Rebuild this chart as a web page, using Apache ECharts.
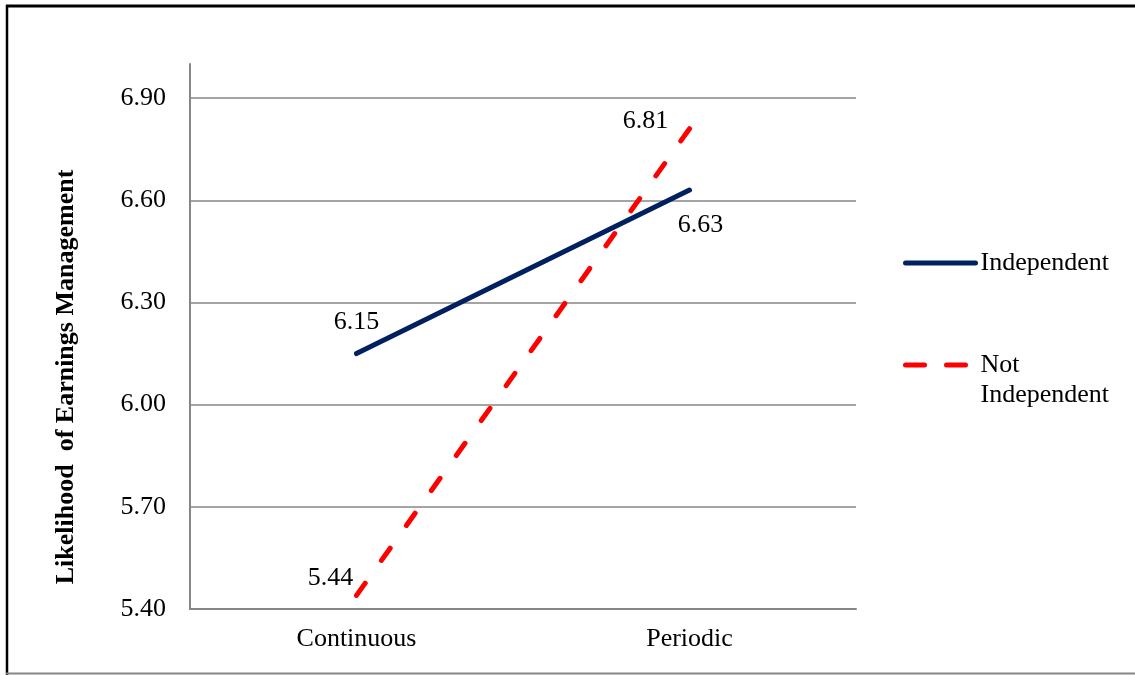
<!DOCTYPE html>
<html>
<head>
<meta charset="utf-8">
<script src="https://cdn.jsdelivr.net/npm/echarts@6/dist/echarts.min.js"></script>
<style>
  html, body { margin: 0; padding: 0; background: #fff; }
  #chart { width: 1135px; height: 675px; }
</style>
</head>
<body>
<div id="chart"></div>
<script>
// Values
const categories = ['Continuous', 'Periodic'];
const independent = [6.15, 6.63];
const notIndependent = [5.44, 6.81];
const seriesNames = ['Independent', 'Not Independent'];
const yTicks = { min: 5.4, max: 7.0, step: 0.3 };

// Label placement around each point (pixels, relative to the point)
const labelOffsets = {
  'Independent': [[0, -31], [11, 35]],
  'Not Independent': [[-26, -17], [-44, -8]]
};

const FONT = '"Liberation Serif", "Times New Roman", serif';
const GRAY = '#868686';
const NAVY = '#002060';
const RED = '#ff0000';

function buildData(name, values) {
  return values.map((v, i) => ({
    value: v,
    label: { offset: labelOffsets[name][i] }
  }));
}

const chart = echarts.init(document.getElementById('chart'), null, { renderer: 'canvas' });

const option = {
  backgroundColor: '#ffffff',
  animation: false,
  grid: { left: 190, right: 279, top: 64, bottom: 66, containLabel: false },
  xAxis: {
    type: 'category',
    data: categories,
    boundaryGap: true,
    axisLine: { lineStyle: { color: GRAY, width: 2 } },
    axisTick: { show: false },
    axisLabel: { color: '#000', fontFamily: FONT, fontSize: 26, margin: 17 }
  },
  yAxis: {
    type: 'value',
    min: yTicks.min,
    max: yTicks.max,
    interval: yTicks.step,
    axisLine: { show: true, lineStyle: { color: GRAY, width: 2 } },
    axisTick: { show: false },
    axisLabel: {
      color: '#000', fontFamily: FONT, fontSize: 26, margin: 24,
      showMaxLabel: false,
      formatter: v => (Math.abs(v - yTicks.max) < 1e-9 ? '' : v.toFixed(2))
    },
    splitLine: { show: true, showMaxLine: false, lineStyle: { color: GRAY, width: 1.5 } }
  },
  legend: {
    orient: 'vertical',
    left: 903,
    top: 248,
    padding: 0,
    itemWidth: 70,
    itemHeight: 14,
    itemGap: 42,
    itemStyle: { opacity: 0 },
    textStyle: { color: '#000', fontFamily: FONT, fontSize: 26, lineHeight: 30 },
    formatter: name => (name === 'Not Independent' ? '\nNot\nIndependent' : name),
    data: [
      { name: seriesNames[0], lineStyle: { color: NAVY, width: 5, cap: 'round', type: 'solid' } },
      { name: seriesNames[1], lineStyle: { color: RED, width: 5, cap: 'round', type: [19, 22] } }
    ]
  },
  series: [
    {
      name: seriesNames[0],
      type: 'line',
      data: buildData(seriesNames[0], independent),
      symbol: 'circle',
      symbolSize: 1,
      showSymbol: true,
      itemStyle: { color: NAVY },
      lineStyle: { color: NAVY, width: 5, cap: 'round' },
      label: {
        show: true, position: 'inside', color: '#000',
        fontFamily: FONT, fontSize: 26,
        formatter: p => p.value.toFixed(2)
      },
      z: 3
    },
    {
      name: seriesNames[1],
      type: 'line',
      data: buildData(seriesNames[1], notIndependent),
      symbol: 'circle',
      symbolSize: 1,
      showSymbol: true,
      itemStyle: { color: RED },
      lineStyle: { color: RED, width: 5, type: [15, 27.95], cap: 'round' },
      label: {
        show: true, position: 'inside', color: '#000',
        fontFamily: FONT, fontSize: 26,
        formatter: p => p.value.toFixed(2)
      },
      z: 2
    }
  ],
  graphic: [
    // axis title, rotated
    {
      type: 'text',
      x: 66, y: 377,
      rotation: Math.PI / 2,
      style: {
        text: 'Likelihood  of Earnings Management',
        font: 'bold 26px ' + FONT,
        fill: '#000',
        align: 'center',
        verticalAlign: 'middle'
      }
    },
    // frame
    { type: 'line', shape: { x1: 6, y1: 6, x2: 1135, y2: 6 }, style: { stroke: '#000', lineWidth: 3 } },
    { type: 'line', shape: { x1: 7, y1: 5, x2: 7, y2: 675 }, style: { stroke: '#000', lineWidth: 2.5 } },
    { type: 'line', shape: { x1: 6, y1: 673.5, x2: 1135, y2: 673.5 }, style: { stroke: GRAY, lineWidth: 2 } }
  ]
};

chart.setOption(option);
</script>
</body>
</html>
